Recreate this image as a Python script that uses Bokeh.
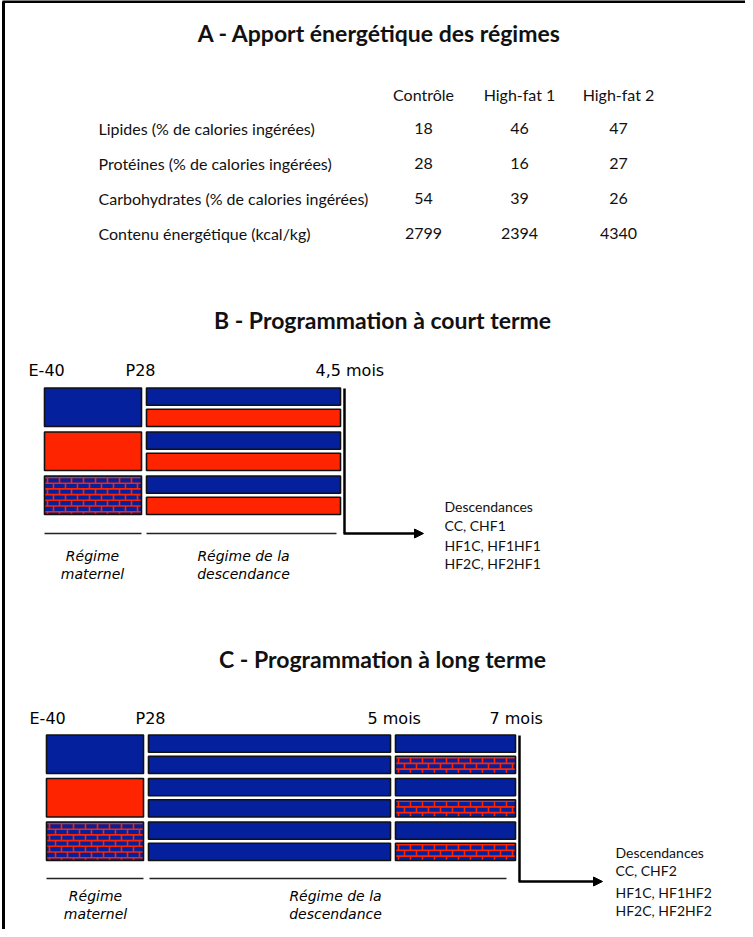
from bokeh.plotting import figure
from bokeh.models import Range1d, Arrow, NormalHead
from bokeh.core.properties import value
from bokeh.embed import file_html
from bokeh.resources import INLINE

# ---------------- data ----------------
title_a = "A - Apport énergétique des régimes"
title_b = "B - Programmation à court terme"
title_c = "C - Programmation à long terme"

diets = ["Contrôle", "High-fat 1", "High-fat 2"]
row_labels = ["Lipides (% de calories ingérées)",
              "Protéines (% de calories ingérées)",
              "Carbohydrates (% de calories ingérées)",
              "Contenu énergétique (kcal/kg)"]
lipides = [18, 46, 47]
proteines = [28, 16, 27]
carbohydrates = [54, 39, 26]
energie = [2799, 2394, 4340]

maternal_diets = ["C", "HF1", "HF2"]
offspring_b = ["C", "HF1"]
offspring_c_phase1 = ["C", "C"]
offspring_c_phase2 = ["C", "HF2"]
times_b = ["E-40", "P28", "4,5 mois"]
times_c = ["E-40", "P28", "5 mois", "7 mois"]
desc_b = ["Descendances", "CC, CHF1", "HF1C, HF1HF1", "HF2C, HF2HF1"]
desc_c = ["Descendances", "CC, CHF2", "HF1C, HF1HF2", "HF2C, HF2HF2"]
label_mat = ["Régime", "maternel"]
label_off = ["Régime de la", "descendance"]

# ---------------- styles ----------------
BLUE = "#05209C"
RED = "#FF2400"
SANS = "Lato"
HAND = "DejaVu Sans"

W, H = 745, 929
p = figure(width=W, height=H, output_backend="svg", toolbar_location=None,
           x_range=Range1d(8, 8 + W), y_range=Range1d(8 + H, 8),
           min_border=0, outline_line_color=None, background_fill_color="white")
p.axis.visible = False
p.grid.visible = False


def txt(x, y, s, size="14px", align="left", style="normal", font=SANS, color="#111111"):
    p.text(x=[x], y=[y], text=[s], text_align=align, text_baseline="middle",
           text_font=value(font), text_font_size=value(size),
           text_font_style=style, text_color=color)


def box(x0, x1, y0, y1, diet):
    if diet == "C":
        p.quad(left=[x0], right=[x1], top=[y0], bottom=[y1], fill_color=BLUE,
               line_color="#111111", line_width=1.6)
    elif diet == "HF1":
        p.quad(left=[x0], right=[x1], top=[y0], bottom=[y1], fill_color=RED,
               line_color="#111111", line_width=1.6)
    else:
        p.quad(left=[x0], right=[x1], top=[y0], bottom=[y1], fill_color=BLUE,
               line_color=None)
        bh, bw = 5.7, 12.0
        hx0, hx1, hy0, hy1 = [], [], [], []
        vx, vy0, vy1 = [], [], []
        k = 0
        yy = y0 + 1.5
        while yy < y1 - 0.5:
            hx0.append(x0); hx1.append(x1); hy0.append(yy); hy1.append(yy)
            ynext = min(yy + bh, y1)
            off = 3.0 if k % 2 == 0 else 3.0 + bw / 2
            xx = x0 + off
            while xx < x1 - 1:
                vx.append(xx); vy0.append(yy); vy1.append(ynext)
                xx += bw
            yy += bh
            k += 1
        p.segment(x0=hx0, y0=hy0, x1=hx1, y1=hy1, line_color=RED, line_width=1.6)
        p.segment(x0=vx, y0=vy0, x1=vx, y1=vy1, line_color=RED, line_width=1.6)
        p.quad(left=[x0], right=[x1], top=[y0], bottom=[y1], fill_color=None,
               line_color="#111111", line_width=1.6)


def arrow(x, ytop, ybot, xend):
    p.segment(x0=[x], y0=[ytop], x1=[x], y1=[ybot], line_color="black", line_width=2.5)
    p.add_layout(Arrow(end=NormalHead(size=9, fill_color="black", line_color="black"),
                       x_start=x - 1, y_start=ybot, x_end=xend, y_end=ybot,
                       line_color="black", line_width=2.5))


# frame
p.segment(x0=[11], y0=[9], x1=[11], y1=[8 + H], line_color="black", line_width=3)
p.segment(x0=[10], y0=[9], x1=[8 + W], y1=[9], line_color="black", line_width=3)

# ---------------- panel A ----------------
txt(387, 40, title_a, size="23px", align="center", style="bold")
col_x = [431, 527, 626]
for cx, d in zip(col_x, diets):
    txt(cx, 102, d, size="16px", align="center")
row_y = [136, 171, 206, 241]
table = [lipides, proteines, carbohydrates, energie]
for ry, lab, vals in zip(row_y, row_labels, table):
    txt(106, ry, lab, size="16px")
    for cx, v in zip(col_x, vals):
        txt(cx, ry, str(v), size="16px", align="center")

# ---------------- panel B ----------------
txt(390, 327, title_b, size="23px", align="center", style="bold")
for tx, t in zip([36, 133, 323], times_b):
    txt(tx, 378, t, size="16px", font=HAND, color="black")
row_tops_b = [395.5, 439.5, 483.5]
RH, BH = 38.5, 17.3
for rt, md in zip(row_tops_b, maternal_diets):
    box(52, 149, rt, rt + RH, md)
    for j, od in enumerate(offspring_b):
        y0 = rt + j * (RH - BH)
        box(154, 348, y0, y0 + BH, od)
arrow(352, 396, 541, 431)
p.segment(x0=[52, 154], y0=[541, 541], x1=[149, 344], y1=[541, 541],
          line_color="#222222", line_width=1.5)
for i, s in enumerate(label_mat):
    txt(100, 563 + 18 * i, s, size="14px", font=HAND, style="italic", align="center", color="black")
for i, s in enumerate(label_off):
    txt(251, 563 + 18 * i, s, size="14px", font=HAND, style="italic", align="center", color="black")
for yy, s in zip([514, 533, 553, 571], desc_b):
    txt(452, yy, s)

# ---------------- panel C ----------------
txt(390, 666, title_c, size="23px", align="center", style="bold")
for tx, t in zip([37, 143, 375, 497], times_c):
    txt(tx, 726, t, size="16px", font=HAND, color="black")
row_tops_c = [742.5, 786, 829.5]
for rt, md in zip(row_tops_c, maternal_diets):
    box(54, 151, rt, rt + RH, md)
    for j, (d1, d2) in enumerate(zip(offspring_c_phase1, offspring_c_phase2)):
        y0 = rt + j * (RH - BH)
        box(156, 398, y0, y0 + BH, d1)
        box(403, 523, y0, y0 + BH, d2)
arrow(527, 743, 889, 610)
p.segment(x0=[54, 157], y0=[886, 886], x1=[151, 514], y1=[886, 886],
          line_color="#222222", line_width=1.5)
for i, s in enumerate(label_mat):
    txt(103, 903 + 18 * i, s, size="14px", font=HAND, style="italic", align="center", color="black")
for i, s in enumerate(label_off):
    txt(343, 903 + 18 * i, s, size="14px", font=HAND, style="italic", align="center", color="black")
for yy, s in zip([860, 878, 900, 918], desc_c):
    txt(623, yy, s)

open("out.html", "w").write(file_html(p, INLINE))
